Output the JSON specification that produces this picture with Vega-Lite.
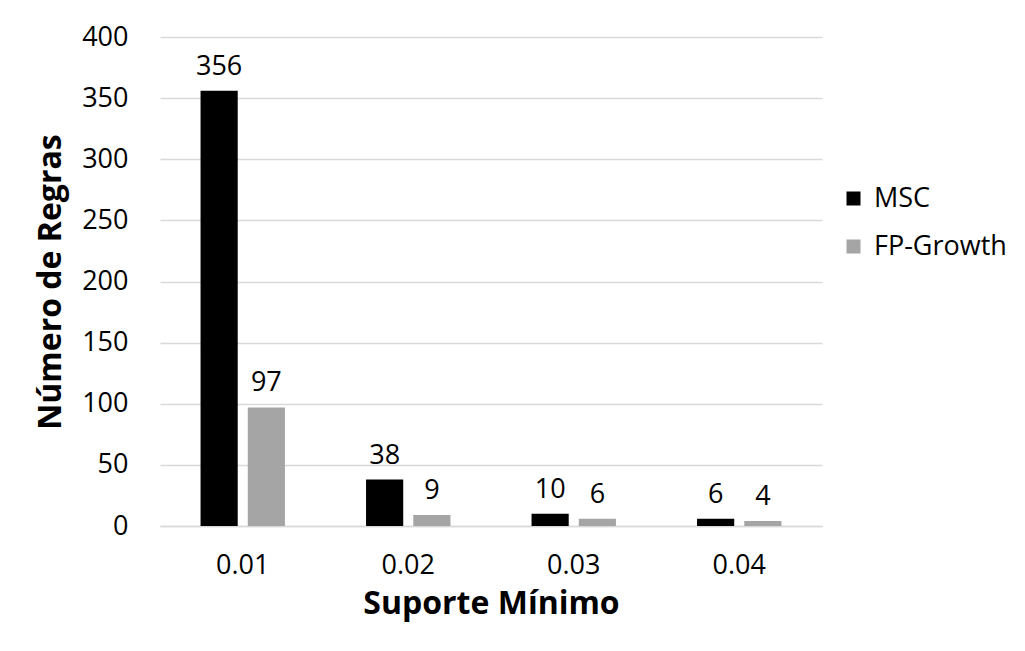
{
  "$schema": "https://vega.github.io/schema/vega-lite/v6.json",
  "width": 662,
  "height": 489,
  "autosize": {"type": "none"},
  "padding": {"left": 160, "top": 37, "right": 203, "bottom": 125},
  "background": "white",
  "config": {
    "font": "Open Sans",
    "view": {"stroke": null},
    "axis": {
      "labelFont": "Open Sans",
      "titleFont": "Open Sans",
      "labelColor": "#000000",
      "titleColor": "#000000"
    },
    "legend": {"labelFont": "Open Sans"}
  },
  "data": {
    "values": [
      {"suporte": "0.01", "algoritmo": "MSC", "regras": 356},
      {"suporte": "0.01", "algoritmo": "FP-Growth", "regras": 97},
      {"suporte": "0.02", "algoritmo": "MSC", "regras": 38},
      {"suporte": "0.02", "algoritmo": "FP-Growth", "regras": 9},
      {"suporte": "0.03", "algoritmo": "MSC", "regras": 10},
      {"suporte": "0.03", "algoritmo": "FP-Growth", "regras": 6},
      {"suporte": "0.04", "algoritmo": "MSC", "regras": 6},
      {"suporte": "0.04", "algoritmo": "FP-Growth", "regras": 4}
    ]
  },
  "encoding": {
    "x": {
      "field": "suporte",
      "type": "nominal",
      "scale": {"paddingInner": 0.49, "paddingOuter": 0.245},
      "axis": {
        "title": "Suporte Mínimo",
        "titleFontSize": 32,
        "titleFontWeight": "bold",
        "titlePadding": 10,
        "labelFontSize": 27,
        "labelAngle": 0,
        "labelPadding": 26,
        "ticks": false,
        "domain": true,
        "domainColor": "#d9d9d9",
        "domainWidth": 1.5
      }
    },
    "xOffset": {
      "field": "algoritmo",
      "type": "nominal",
      "sort": ["MSC", "FP-Growth"],
      "scale": {"paddingInner": 0.213, "paddingOuter": 0}
    },
    "y": {
      "field": "regras",
      "type": "quantitative",
      "scale": {"domain": [0, 400], "nice": false},
      "axis": {
        "title": "Número de Regras",
        "titleFontSize": 32,
        "titleFontWeight": "bold",
        "titlePadding": 14,
        "labelFontSize": 27,
        "labelPadding": 32,
        "labelOverlap": false,
        "values": [0, 50, 100, 150, 200, 250, 300, 350, 400],
        "ticks": false,
        "domain": false,
        "grid": true,
        "gridColor": "#d9d9d9",
        "gridWidth": 1.5
      }
    }
  },
  "layer": [
    {
      "mark": {"type": "bar"},
      "encoding": {
        "color": {
          "field": "algoritmo",
          "type": "nominal",
          "sort": ["MSC", "FP-Growth"],
          "scale": {"domain": ["MSC", "FP-Growth"], "range": ["#000000", "#a5a5a5"]},
          "legend": {
            "title": null,
            "orient": "none",
            "legendX": 680,
            "legendY": 148,
            "padding": 0,
            "symbolType": "square",
            "symbolSize": 196,
            "symbolStrokeWidth": 0,
            "labelFontSize": 27,
            "labelColor": "#000000",
            "labelOffset": 7,
            "rowPadding": 20
          }
        }
      }
    },
    {
      "mark": {"type": "text", "fontSize": 27, "baseline": "alphabetic", "dy": -16, "color": "#000000"},
      "encoding": {
        "text": {"field": "regras", "type": "quantitative"}
      }
    }
  ]
}
